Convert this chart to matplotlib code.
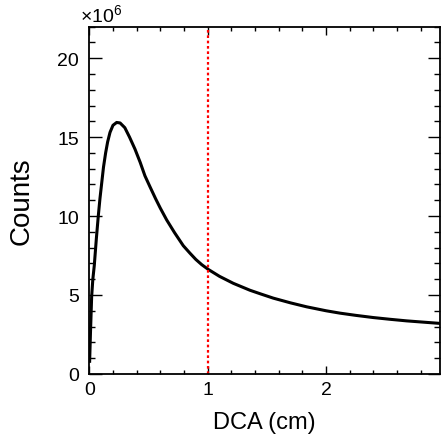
import numpy as np
import matplotlib.pyplot as plt
from matplotlib.ticker import MultipleLocator

plt.rcParams['font.family'] = ['Liberation Sans', 'DejaVu Sans']
plt.rcParams['mathtext.fontset'] = 'custom'
plt.rcParams['mathtext.rm'] = 'Liberation Sans'

# DCA distribution (counts in units of 1e6)
dca = [0.003, 0.01, 0.02, 0.03, 0.042, 0.06, 0.076, 0.09, 0.105, 0.12, 0.138,
       0.155, 0.175, 0.2, 0.231, 0.26, 0.3, 0.34, 0.386, 0.43, 0.47, 0.513,
       0.56, 0.6, 0.654, 0.72, 0.794, 0.85, 0.9, 0.95, 1.005, 1.1, 1.216,
       1.357, 1.45, 1.554, 1.7, 1.836, 2.0, 2.117, 2.25, 2.399, 2.54, 2.68,
       2.82, 2.962]
counts = [0.8, 2.6, 4.9, 6.0, 6.85, 8.6, 10.0, 11.1, 12.1, 13.1, 14.0,
          14.7, 15.3, 15.75, 15.93, 15.9, 15.6, 15.0, 14.24, 13.4, 12.55, 11.85,
          11.1, 10.5, 9.75, 8.95, 8.12, 7.65, 7.25, 6.92, 6.62, 6.18, 5.74,
          5.3, 5.06, 4.8, 4.5, 4.25, 4.0, 3.85, 3.71, 3.57, 3.46, 3.36,
          3.28, 3.2]
cut_value = 1.0

fig = plt.figure(figsize=(4.42, 4.39), dpi=100)
ax = fig.add_axes([0.202, 0.146, 0.7935, 0.791])

ax.plot(dca, np.array(counts) * 1e6, color='black', lw=2.2)
ax.axvline(cut_value, color='red', ls=(0, (1.2, 1.2)), lw=1.6)

ax.set_xlim(0, 2.962)
ax.set_ylim(0, 22e6)
ax.xaxis.set_major_locator(MultipleLocator(1))
ax.xaxis.set_minor_locator(MultipleLocator(0.2))
ax.yaxis.set_major_locator(MultipleLocator(5e6))
ax.yaxis.set_minor_locator(MultipleLocator(1e6))
ax.set_yticks([0, 5e6, 10e6, 15e6, 20e6])
ax.set_yticklabels(['0', '5', '10', '15', '20'])

ax.tick_params(axis='both', which='both', direction='in', top=True, right=True,
               labelsize=14, width=1)
ax.tick_params(axis='x', which='major', length=6, pad=5)
ax.tick_params(axis='x', which='minor', length=3)
ax.tick_params(axis='y', which='major', length=9, pad=7.5)
ax.tick_params(axis='y', which='minor', length=4.5)
for s in ax.spines.values():
    s.set_linewidth(1.3)

ax.set_xlabel('DCA (cm)', fontsize=17, labelpad=9.5)
ax.set_ylabel('Counts', fontsize=20, labelpad=16)
ax.text(-0.027, 1.0127, r'$\times$10$^{6}$', transform=ax.transAxes, fontsize=14,
        ha='left', va='baseline')

fig.savefig('out.png', dpi=100)
